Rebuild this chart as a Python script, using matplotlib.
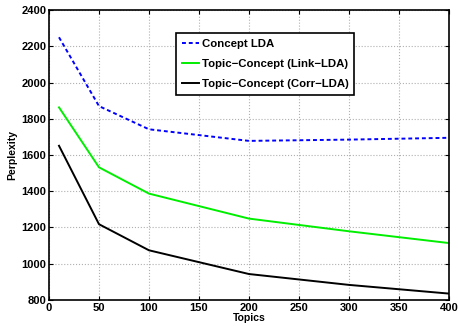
import numpy as np
import matplotlib
matplotlib.use('Agg')
import matplotlib.pyplot as plt

topics = [10, 50, 100, 200, 300, 400]
concept_lda = [2250, 1870, 1742, 1678, 1685, 1695]
link_lda = [1863, 1532, 1387, 1249, 1179, 1114]
corr_lda = [1651, 1218, 1074, 943, 883, 835]

plt.rcParams['font.family'] = ['Liberation Sans', 'DejaVu Sans']
plt.rcParams['font.weight'] = 'bold'

fig = plt.figure(figsize=(4.58, 3.26), dpi=100)
ax = fig.add_axes([0.107, 0.080, 0.873, 0.889])

ax.plot(topics, concept_lda, color='#0000ff', ls=(0, (2, 1.5)), lw=1.4, label='Concept LDA')
ax.plot(topics, link_lda, color='#00ee00', lw=1.4, label='Topic\u2212Concept (Link\u2212LDA)')
ax.plot(topics, corr_lda, color='black', lw=1.4, label='Topic\u2212Concept (Corr\u2212LDA)')

ax.set_xlim(0, 400)
ax.set_ylim(800, 2400)
ax.set_xticks(np.arange(0, 401, 50))
ax.set_yticks(np.arange(800, 2401, 200))
ax.grid(True, ls=':', color='#b0b0b0', lw=0.8)
ax.tick_params(direction='in', top=True, right=True, labelsize=8, length=3, pad=2)
for lab in ax.get_xticklabels() + ax.get_yticklabels():
    lab.set_fontweight('bold')
for s in ax.spines.values():
    s.set_linewidth(1.2)

ax.set_xlabel('Topics', fontsize=7.5, fontweight='bold', labelpad=0)
ax.set_ylabel('Perplexity', fontsize=7.5, fontweight='bold', labelpad=3)

leg = ax.legend(loc='upper left', bbox_to_anchor=(0.3175, 0.92), fontsize=8.2,
                fancybox=False, edgecolor='black', framealpha=1, handlelength=1.55,
                borderpad=0.5, labelspacing=0.9, handletextpad=0.2,
                borderaxespad=0)
leg.get_frame().set_linewidth(1.2)
for t in leg.get_texts():
    t.set_fontweight('bold')

fig.savefig('out.png', dpi=100)
